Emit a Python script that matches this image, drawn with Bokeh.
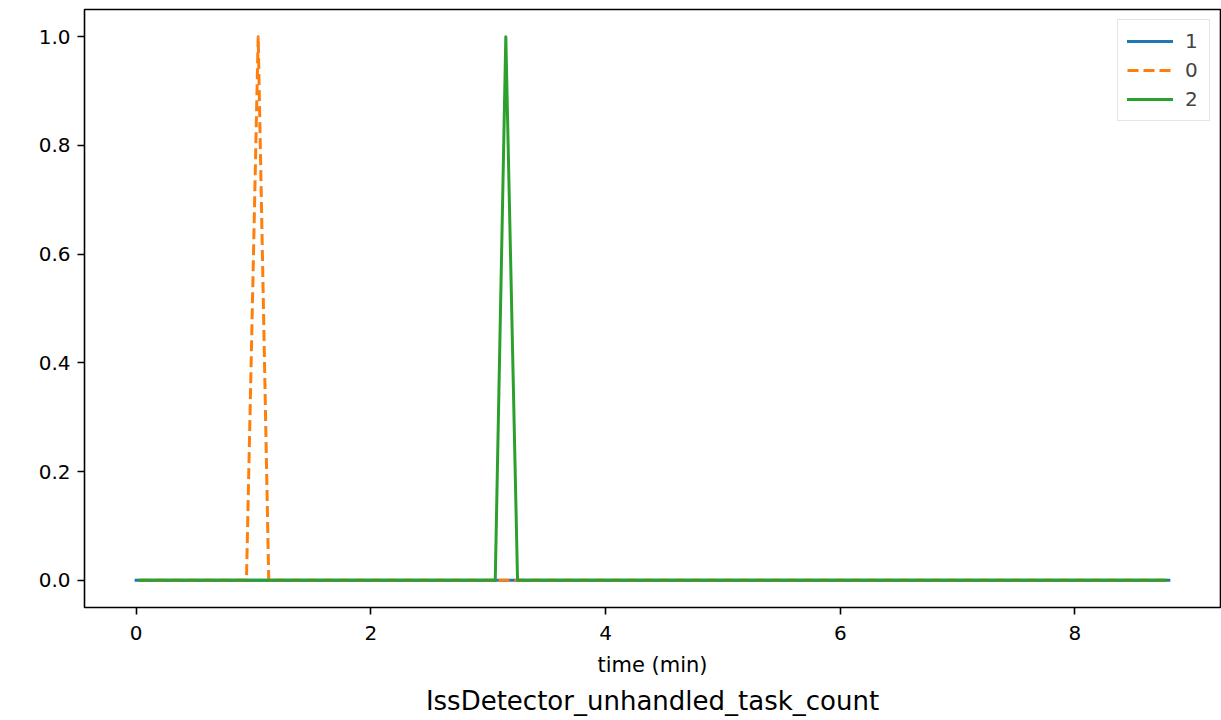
from bokeh.plotting import figure
from bokeh.models import Range1d, FixedTicker, Legend, LegendItem, PrintfTickFormatter
from bokeh.embed import file_html
from bokeh.resources import INLINE

# Data (time in minutes)
t1 = [0.0, 8.8]
v1 = [0, 0]
t0 = [0.03, 0.94, 1.04, 1.13, 8.77]
v0 = [0, 0, 1, 0, 0]
t2 = [0.03, 3.06, 3.15, 3.25, 8.77]
v2 = [0, 0, 1, 0, 0]
x_ticks = [0, 2, 4, 6, 8]
y_ticks = [0.0, 0.2, 0.4, 0.6, 0.8, 1.0]
title_text = "IssDetector_unhandled_task_count"
x_label = "time (min)"

FONT = "DejaVu Sans"

p = figure(frame_width=1136, frame_height=598, output_backend="svg",
           toolbar_location=None, x_range=Range1d(-0.44, 9.24),
           y_range=Range1d(-0.05, 1.05), min_border_left=84, min_border_top=9,
           min_border_right=1, min_border_bottom=113)

l1 = p.line(t1, v1, line_color="#1f77b4", line_width=3, line_cap="square", line_join="round")
l0 = p.line(t0, v0, line_color="#ff7f0e", line_width=3, line_dash="11 5", line_join="round")
l2 = p.line(t2, v2, line_color="#2ca02c", line_width=3, line_cap="square", line_join="round")

p.grid.visible = False
p.outline_line_color = "black"
p.outline_line_width = 1.6
p.outline_line_alpha = 1.0

for ax in (p.xaxis[0], p.yaxis[0]):
    ax.axis_line_color = None
    ax.major_tick_in = 0
    ax.major_tick_out = 7
    ax.major_tick_line_width = 1.6
    ax.major_tick_line_color = "black"
    ax.minor_tick_line_color = None
    ax.major_label_text_font = FONT
    ax.major_label_text_font_size = "20px"
    ax.major_label_text_color = "black"
    ax.major_label_standoff = 7

p.xaxis.major_label_standoff = 11
p.xaxis.ticker = FixedTicker(ticks=x_ticks)
p.yaxis.ticker = FixedTicker(ticks=y_ticks)
p.yaxis.formatter = PrintfTickFormatter(format="%.1f")
p.xaxis.axis_label = x_label
p.xaxis.axis_label_text_font = FONT
p.xaxis.axis_label_text_font_size = "21px"
p.xaxis.axis_label_text_font_style = "normal"
p.xaxis.axis_label_text_color = "black"
p.xaxis.axis_label_standoff = 10

p.title.text = title_text
p.title_location = "below"
p.title.align = "center"
p.title.text_font = FONT
p.title.text_font_size = "26px"
p.title.text_font_style = "normal"
p.title.text_color = "black"
p.title.standoff = 8

legend = Legend(items=[LegendItem(label="1", renderers=[l1]),
                       LegendItem(label="0", renderers=[l0]),
                       LegendItem(label="2", renderers=[l2])],
                location="top_right", margin=10, padding=9, spacing=5,
                glyph_width=46, glyph_height=24, label_height=24, label_width=15,
                label_standoff=12, label_text_font=FONT,
                label_text_font_size="20px", border_line_color="#cccccc",
                border_line_width=1.6, background_fill_alpha=0.8)
p.add_layout(legend)

open("out.html", "w").write(file_html(p, INLINE))
